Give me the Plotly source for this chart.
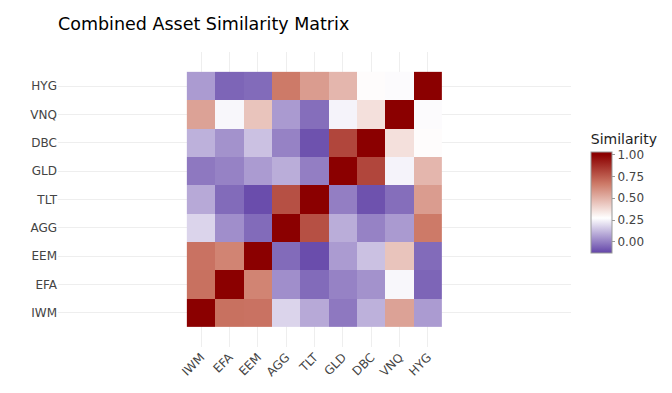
import plotly.graph_objects as go

assets = ["IWM", "EFA", "EEM", "AGG", "TLT", "GLD", "DBC", "VNQ", "HYG"]

row_IWM = [1.00, 0.69, 0.685, 0.18, 0.087, -0.018, 0.104, 0.545, 0.058]
row_EFA = [0.69, 1.00, 0.635, 0.03, -0.047, 0.003, 0.037, 0.255, -0.06]
row_EEM = [0.685, 0.635, 1.00, -0.047, -0.11, 0.058, 0.138, 0.445, -0.047]
row_AGG = [0.18, 0.03, -0.047, 1.00, 0.78, 0.096, 0.003, 0.054, 0.664]
row_TLT = [0.087, -0.047, -0.11, 0.78, 1.00, -0.005, -0.10, -0.04, 0.563]
row_GLD = [-0.018, 0.003, 0.058, 0.096, -0.005, 1.00, 0.807, 0.247, 0.486]
row_DBC = [0.104, 0.037, 0.138, 0.003, -0.10, 0.807, 1.00, 0.362, 0.28]
row_VNQ = [0.545, 0.255, 0.445, 0.054, -0.04, 0.247, 0.362, 1.00, 0.264]
row_HYG = [0.058, -0.06, -0.047, 0.664, 0.563, 0.486, 0.28, 0.264, 1.00]

z = [row_IWM, row_EFA, row_EEM, row_AGG, row_TLT, row_GLD, row_DBC, row_VNQ, row_HYG]

colorscale = [
    [0.0, "#6244a8"],
    [0.3466, "#ffffff"],
    [0.6845, "#cd7a68"],
    [0.974, "#8b0000"],
    [1.0, "#8b0000"],
]

FONT = "DejaVu Sans, Verdana, sans-serif"

fig = go.Figure(
    go.Heatmap(
        z=z,
        x=assets,
        y=assets,
        zmin=-0.13,
        zmax=1.03,
        colorscale=colorscale,
        colorbar=dict(
            title=dict(text="Similarity", side="top", font=dict(size=14, color="#222")),
            thickness=21,
            len=0.48,
            y=0.525,
            yanchor="middle",
            outlinewidth=1,
            outlinecolor="#999999",
            ticks="outside",
            ticklen=3,
            tickcolor="#999999",
            tickformat=".2f",
            dtick=0.25,
            tick0=0,
            tickfont=dict(size=12, color="#444"),
        ),
    )
)

fig.update_layout(
    template="plotly_white",
    width=672,
    height=393,
    title=dict(text="Combined Asset Similarity Matrix", x=0.0, xref="paper",
               y=0.959, yref="container", yanchor="middle",
               font=dict(size=17.5, color="black", family=FONT)),
    margin=dict(l=50, r=109, t=44, b=54),
    font=dict(family=FONT, color="#444", size=12),
)
fig.update_xaxes(tickangle=-45, scaleanchor="y", scaleratio=1, constrain="range",
                 showgrid=True, gridcolor="#eeeeee")
fig.update_yaxes(range=[-1.2, 9.2], autorange=False, showgrid=True, gridcolor="#eeeeee")

fig.write_html("out.html")
